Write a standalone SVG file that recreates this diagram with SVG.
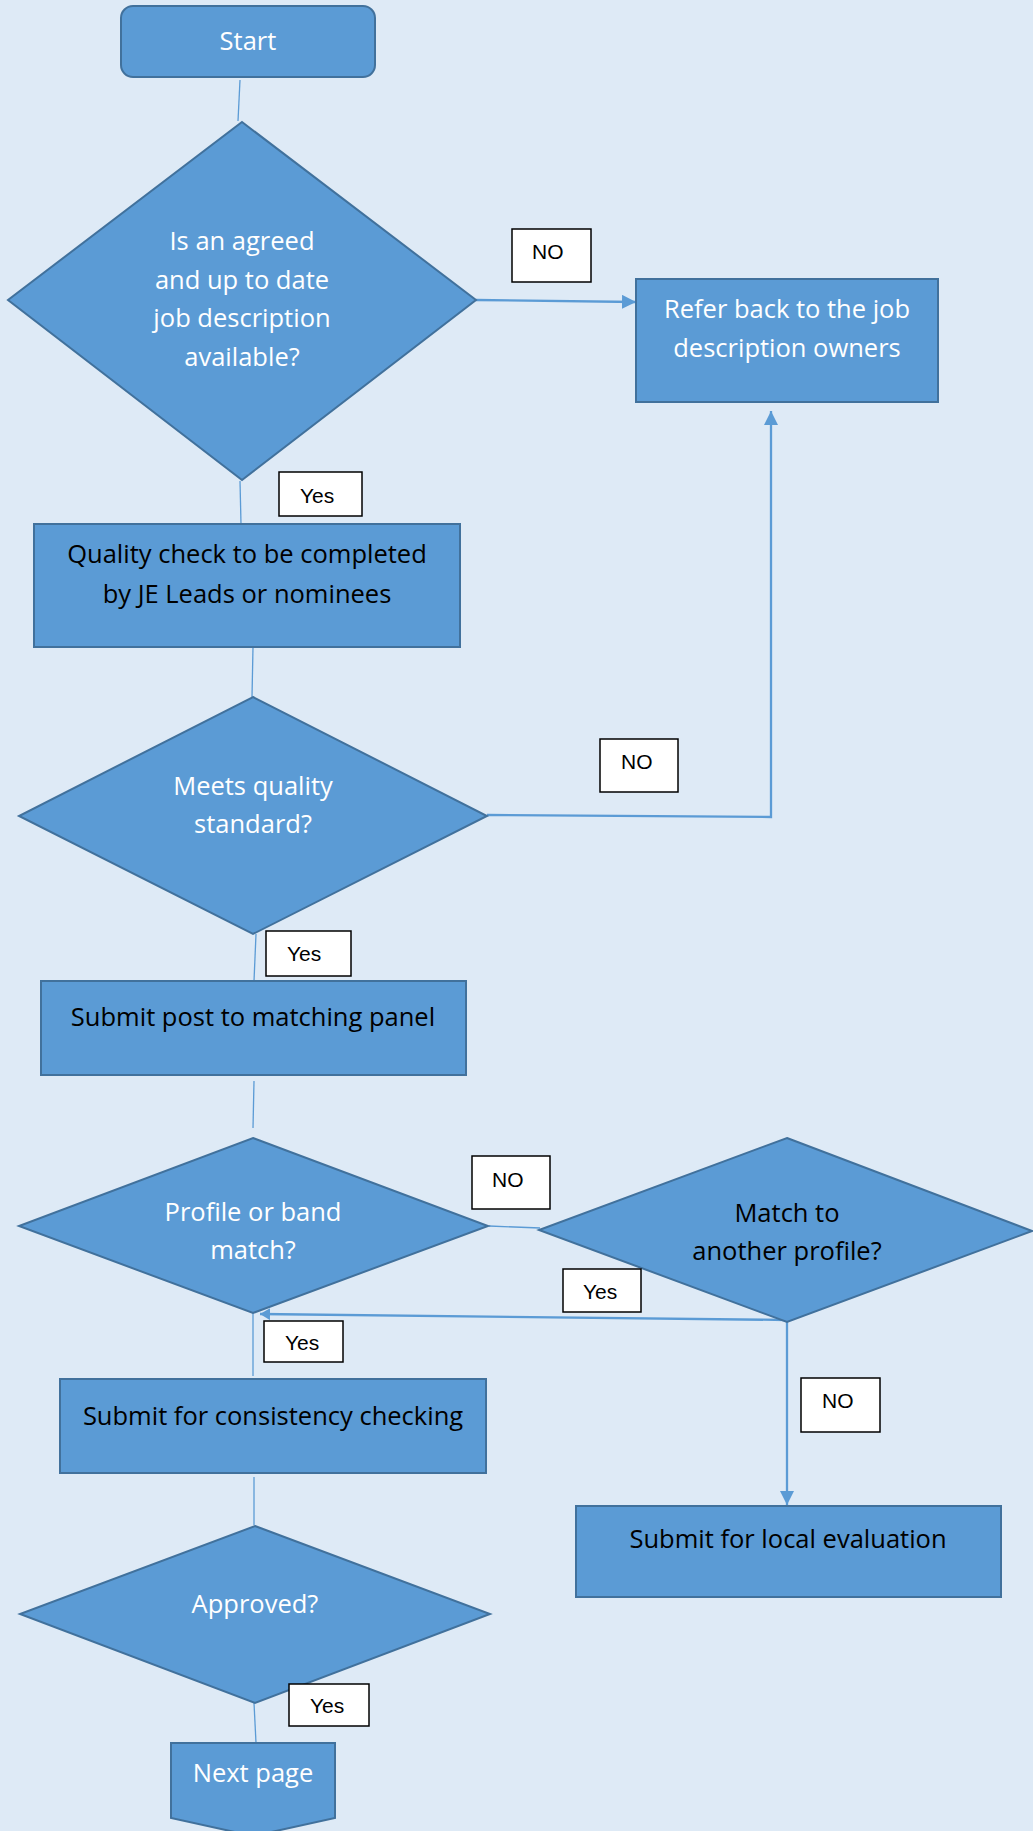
<svg xmlns="http://www.w3.org/2000/svg" width="1033" height="1831" viewBox="0 0 1033 1831">
<style>
.node{fill:#5B9BD5;stroke:#41719C;stroke-width:2}
.t{font-family:"Open Sans","Liberation Sans",sans-serif;font-size:25.5px;text-anchor:middle}
.w{fill:#FFFFFF}
.b{fill:#000000}
.thin{stroke:#5B9BD5;stroke-width:1.3;fill:none}
.thick{stroke:#5B9BD5;stroke-width:2.3;fill:none}
.lbl rect{fill:#FFFFFF;stroke:#000000;stroke-width:1.5}
.lbl text{font-family:"Liberation Sans",Arial,sans-serif;font-size:21px;fill:#000000}
</style>
<defs>
<marker id="ah" markerUnits="userSpaceOnUse" markerWidth="14" markerHeight="14" refX="14" refY="7" orient="auto">
<path d="M0,0 L14,7 L0,14 z" fill="#5B9BD5"/>
</marker>
<marker id="ahs" markerUnits="userSpaceOnUse" markerWidth="10" markerHeight="12" refX="10" refY="6" orient="auto">
<path d="M0,0 L10,6 L0,12 z" fill="#5B9BD5"/>
</marker>
</defs>
<rect width="1033" height="1831" fill="#DEEAF6"/>
<g id="connectors">
<line class="thin" x1="240" y1="80" x2="238" y2="121"/>
<line class="thick" x1="476" y1="300" x2="636" y2="302" marker-end="url(#ah)"/>
<line class="thin" x1="240" y1="481" x2="241" y2="524"/>
<line class="thin" x1="253" y1="647" x2="252" y2="697"/>
<polyline class="thick" points="487,815 771,817 771,411" marker-end="url(#ah)"/>
<line class="thin" x1="256" y1="934" x2="254" y2="981"/>
<line class="thin" x1="254" y1="1081" x2="253" y2="1128"/>
<line class="thin" x1="489" y1="1226" x2="540" y2="1228"/>
<line class="thick" x1="787" y1="1320" x2="260" y2="1314" marker-end="url(#ahs)"/>
<line class="thick" x1="787" y1="1322" x2="787" y2="1505" marker-end="url(#ah)"/>
<line class="thin" x1="253" y1="1313" x2="253" y2="1376"/>
<line class="thin" x1="254" y1="1477" x2="254" y2="1525"/>
<line class="thin" x1="254" y1="1703" x2="256" y2="1743"/>
</g>
<g id="start">
<rect class="node" x="121" y="6" width="254" height="71" rx="12"/>
<text class="t w" x="248" y="50">Start</text>
</g>
<g id="d1">
<polygon class="node" points="242,122 476,300 242,480 8,300"/>
<text class="t w" x="242" y="250">Is an agreed</text>
<text class="t w" x="242" y="289">and up to date</text>
<text class="t w" x="242" y="327">job description</text>
<text class="t w" x="242" y="366">available?</text>
</g>
<g id="refer">
<rect class="node" x="636" y="279" width="302" height="123"/>
<text class="t w" x="787" y="318">Refer back to the job</text>
<text class="t w" x="787" y="357">description owners</text>
</g>
<g id="quality">
<rect class="node" x="34" y="524" width="426" height="123"/>
<text class="t b" x="247" y="563">Quality check to be completed</text>
<text class="t b" x="247" y="603">by JE Leads or nominees</text>
</g>
<g id="d2">
<polygon class="node" points="253,697 487,816 253,934 19,816"/>
<text class="t w" x="253" y="795">Meets quality</text>
<text class="t w" x="253" y="833">standard?</text>
</g>
<g id="submitpost">
<rect class="node" x="41" y="981" width="425" height="94"/>
<text class="t b" x="253" y="1026">Submit post to matching panel</text>
</g>
<g id="d3">
<polygon class="node" points="253,1138 488,1226 253,1313 19,1226"/>
<text class="t w" x="253" y="1221">Profile or band</text>
<text class="t w" x="253" y="1259">match?</text>
</g>
<g id="d4">
<polygon class="node" points="787,1138 1032,1231 787,1322 539,1230"/>
<text class="t b" x="787" y="1222">Match to</text>
<text class="t b" x="787" y="1260">another profile?</text>
</g>
<g id="consistency">
<rect class="node" x="60" y="1379" width="426" height="94"/>
<text class="t b" x="273" y="1425">Submit for consistency checking</text>
</g>
<g id="local">
<rect class="node" x="576" y="1506" width="425" height="91"/>
<text class="t b" x="788" y="1548">Submit for local evaluation</text>
</g>
<g id="d5">
<polygon class="node" points="255,1526 490,1614 255,1703 20,1614"/>
<text class="t w" x="255" y="1613">Approved?</text>
</g>
<g id="nextpage">
<polygon class="node" points="171,1743 335,1743 335,1818 253,1836 171,1818"/>
<text class="t w" x="253" y="1782">Next page</text>
</g>
<g id="labels">
<g class="lbl"><rect x="512" y="229" width="79" height="53"/><text x="532" y="259">NO</text></g>
<g class="lbl"><rect x="279" y="472" width="83" height="44"/><text x="300" y="503">Yes</text></g>
<g class="lbl"><rect x="600" y="739" width="78" height="53"/><text x="621" y="769">NO</text></g>
<g class="lbl"><rect x="266" y="931" width="85" height="45"/><text x="287" y="961">Yes</text></g>
<g class="lbl"><rect x="472" y="1156" width="78" height="53"/><text x="492" y="1187">NO</text></g>
<g class="lbl"><rect x="563" y="1269" width="78" height="43"/><text x="583" y="1299">Yes</text></g>
<g class="lbl"><rect x="264" y="1321" width="79" height="41"/><text x="285" y="1350">Yes</text></g>
<g class="lbl"><rect x="801" y="1378" width="79" height="54"/><text x="822" y="1408">NO</text></g>
<g class="lbl"><rect x="289" y="1684" width="80" height="42"/><text x="310" y="1713">Yes</text></g>
</g>
</svg>
